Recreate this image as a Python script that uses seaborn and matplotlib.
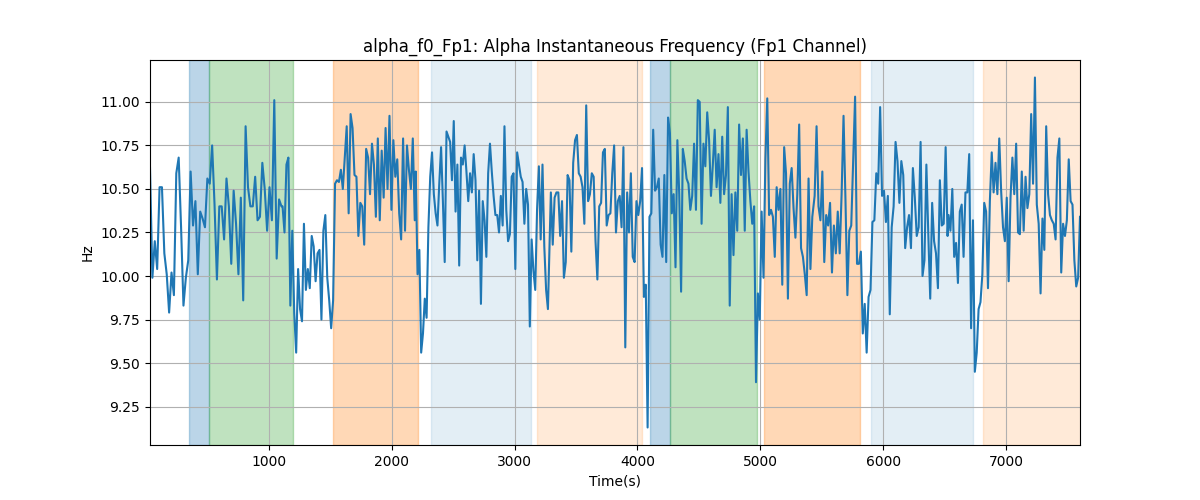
"""Alpha instantaneous frequency, Fp1 channel, with shaded segments."""
import numpy as np
import pandas as pd
import matplotlib
matplotlib.use("Agg")
import matplotlib.pyplot as plt
import seaborn as sns

OUTPUT_PATH = "out.png"
TITLE = "alpha_f0_Fp1: Alpha Instantaneous Frequency (Fp1 Channel)"

# (start, end) time of each run of readings below, in seconds
SEG_BOUNDS = [
    (33, 1103), (1112, 2188), (2196, 3272), (3296, 4356),
    (4370, 5424), (5443, 6525), (6533, 7603),
]

SEG1_HZ = [
    10.62, 9.99, 10.20, 10.04, 10.51, 10.51, 10.13, 10.01, 9.79, 10.02,
    9.89, 10.59, 10.68, 10.28, 9.83, 9.99, 10.09, 10.60, 10.29, 10.43,
    10.01, 10.37, 10.33, 10.28, 10.56, 10.53, 10.75, 10.41, 9.98, 10.40,
    10.40, 10.21, 10.56, 10.40, 10.07, 10.49, 10.30, 10.01, 10.45, 9.86,
    10.86, 10.51, 10.40, 10.40, 10.57, 10.32, 10.34, 10.65, 10.50, 10.26,
    10.51, 10.32, 11.01, 10.10, 10.44, 10.40,
]
SEG2_HZ = [
    10.40, 10.25, 10.64, 10.68, 9.83, 10.26, 9.79, 9.56, 10.04, 9.81,
    9.74, 10.30, 9.92, 10.04, 9.93, 10.23, 10.17, 9.97, 10.13, 10.15,
    9.75, 10.26, 10.35, 9.99, 9.86, 9.70, 9.86, 10.53, 10.55, 10.54,
    10.61, 10.50, 10.68, 10.86, 10.36, 10.93, 10.85, 10.58, 10.57, 10.23,
    10.42, 10.40, 10.18, 10.73, 10.68, 10.47, 10.76, 10.64, 10.34, 10.79,
    10.32, 10.72, 10.45, 10.85, 10.50, 10.92, 10.38, 10.78, 10.57, 10.67,
    10.36, 10.21, 10.79, 10.26, 10.75, 10.61, 10.50, 10.79, 10.32,
]
SEG3_HZ = [
    10.60, 10.01, 10.15, 9.56, 9.67, 9.87, 9.76, 10.28, 10.57, 10.71,
    10.47, 10.36, 10.29, 10.53, 10.74, 10.43, 10.08, 10.83, 10.80, 10.77,
    10.55, 10.89, 10.37, 10.64, 10.06, 10.68, 10.64, 10.75, 10.60, 10.43,
    10.59, 10.48, 10.70, 10.55, 10.09, 10.49, 9.84, 10.43, 10.32, 10.11,
    10.59, 10.76, 10.60, 10.46, 10.35, 10.35, 10.25, 10.46, 10.29, 10.86,
    10.38, 10.20, 10.24, 10.57, 10.59, 10.04, 10.71, 10.64, 10.57, 10.54,
    10.30, 10.50, 10.41, 9.71, 10.21, 10.03, 9.92, 10.38, 10.63, 10.21,
    10.64, 10.17, 9.92, 9.81,
]
SEG4_HZ = [
    10.48, 10.18, 10.45, 10.48, 10.48, 10.23, 10.43, 9.99, 10.08, 10.58,
    10.55, 10.14, 10.65, 10.78, 10.81, 10.59, 10.57, 10.51, 10.30, 10.98,
    10.43, 10.47, 10.59, 10.57, 10.20, 9.98, 10.40, 10.42, 10.71, 10.73,
    10.29, 10.35, 10.36, 10.59, 10.75, 10.25, 10.43, 10.46, 10.28, 10.74,
    9.59, 10.48, 10.25, 10.59, 10.11, 10.08, 10.43, 10.35, 10.43, 10.62,
    9.88, 9.95, 9.13, 10.34, 10.36, 10.84, 10.49, 10.51, 10.56, 10.18,
    10.11, 10.58, 10.08, 10.91, 10.82, 10.36, 10.47, 10.05, 10.78, 10.47,
    9.91,
]
SEG5_HZ = [
    10.73, 10.66, 10.56, 10.53, 10.38, 10.46, 10.76, 10.38, 11.01, 11.00,
    10.30, 10.76, 10.63, 10.94, 10.78, 10.46, 10.64, 10.84, 10.51, 10.70,
    10.42, 10.80, 10.47, 10.58, 10.97, 9.83, 10.47, 10.12, 10.48, 10.26,
    10.87, 10.58, 10.79, 10.26, 10.84, 10.60, 10.43, 10.30, 10.40, 9.39,
    9.90, 9.75, 10.37, 9.99, 10.67, 11.02, 10.35, 10.38, 10.34, 10.11,
    10.51, 10.38, 10.50, 9.95, 10.74, 10.59, 9.87, 10.53, 10.62, 10.39,
    10.22, 10.47, 10.87, 10.16, 10.11, 10.01, 9.89, 10.56, 10.04, 10.34,
]
SEG6_HZ = [
    10.46, 10.86, 10.40, 10.32, 10.60, 10.08, 10.35, 10.29, 10.42, 10.02,
    10.29, 10.13, 10.37, 10.13, 10.47, 10.92, 10.44, 9.89, 10.26, 10.29,
    10.66, 11.03, 10.07, 10.07, 10.14, 9.67, 9.84, 9.56, 9.88, 9.92,
    10.31, 10.32, 10.59, 10.53, 10.97, 10.46, 10.49, 10.31, 10.46, 9.78,
    10.28, 10.40, 10.77, 10.66, 10.42, 10.66, 10.58, 10.16, 10.28, 10.35,
    10.16, 10.62, 10.45, 10.23, 10.28, 10.77, 10.00, 10.09, 10.64, 10.24,
    9.87, 10.42, 10.20, 10.13, 9.93, 10.55, 10.29, 10.30, 10.74, 10.23,
]
SEG7_HZ = [
    10.35, 10.26, 10.50, 10.11, 10.19, 9.96, 10.37, 10.41, 10.11, 10.48,
    10.48, 10.70, 9.70, 10.32, 9.45, 9.56, 9.81, 9.85, 10.01, 10.42,
    10.37, 9.93, 10.43, 10.71, 10.48, 10.65, 10.47, 10.79, 10.49, 10.28,
    10.20, 10.45, 9.97, 10.45, 10.68, 10.47, 10.76, 10.25, 10.24, 10.60,
    10.26, 10.57, 10.39, 10.47, 10.93, 10.53, 11.14, 10.41, 10.30, 9.90,
    10.33, 10.15, 10.86, 10.47, 10.35, 10.32, 10.30, 10.21, 10.68, 10.79,
    10.02, 10.30, 10.23, 10.32, 10.67, 10.43, 10.41, 10.09, 9.94, 9.99,
    10.34,
]
SEGMENTS = [SEG1_HZ, SEG2_HZ, SEG3_HZ, SEG4_HZ, SEG5_HZ, SEG6_HZ, SEG7_HZ]

# shaded intervals: start, end, colour, alpha
SPAN_START = [349, 511, 1519, 2324, 3185, 4101, 4264, 5027, 5900, 6813]
SPAN_END = [511, 1193, 2212, 3131, 4041, 4264, 4973, 5815, 6728, 7650]
SPAN_COLOR = ["tab:blue", "tab:green", "tab:orange", "tab:blue", "tab:orange",
              "tab:blue", "tab:green", "tab:orange", "tab:blue", "tab:orange"]
SPAN_ALPHA = [0.3, 0.3, 0.3, 0.12, 0.16, 0.3, 0.3, 0.3, 0.12, 0.16]


def build_frame():
    times, values = [], []
    for (t0, t1), seg in zip(SEG_BOUNDS, SEGMENTS):
        times.extend(np.linspace(t0, t1, len(seg)))
        values.extend(seg)
    return pd.DataFrame({"time": times, "hz": values})


def build(df):
    fig, ax = plt.subplots(figsize=(12, 5), dpi=100)

    for s, e, c, a in zip(SPAN_START, SPAN_END, SPAN_COLOR, SPAN_ALPHA):
        ax.axvspan(s, e, color=c, alpha=a)

    sns.lineplot(data=df, x="time", y="hz", color="tab:blue",
                 linewidth=1.5, ax=ax)

    ax.set_xlim(df["time"].min(), df["time"].max())
    ax.grid(True)
    ax.set_title(TITLE)
    ax.set_xlabel("Time(s)")
    ax.set_ylabel("Hz")

    plt.savefig(OUTPUT_PATH)
    plt.close()


if __name__ == "__main__":
    build(build_frame())
